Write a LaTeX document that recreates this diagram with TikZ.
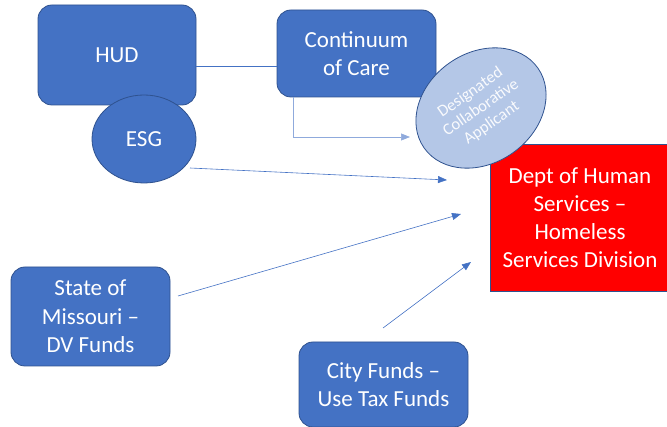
\documentclass[tikz,border=0pt]{standalone}
\usepackage{fontspec}
\setmainfont{Carlito}
\usetikzlibrary{shapes.geometric,arrows.meta}
\definecolor{bfill}{HTML}{4472C4}
\definecolor{bline}{HTML}{2F528F}
\definecolor{lfill}{HTML}{B4C7E7}
\definecolor{lline}{HTML}{8FAADC}
\tikzset{
  box/.style={draw=bline, line width=0.8pt, fill=bfill, rounded corners=14pt, text=white, font=\fontsize{23}{28.5}\selectfont, align=center, inner sep=0pt},
  oval/.style={draw=bline, line width=0.8pt, fill=bfill, ellipse, text=white, font=\fontsize{23}{28.5}\selectfont, inner sep=0pt},
  conn/.style={draw=bfill, line width=0.6pt},
  arr/.style={conn, -{Triangle[length=9pt,width=7pt]}}
}
\begin{document}
\begin{tikzpicture}[x=1pt,y=-1pt]
\useasboundingbox (0,0) rectangle (667,427);
% HUD and ESG
\node[box, minimum width=158pt, minimum height=100pt] (hud) at (117,55) {HUD};
\node[oval, minimum width=104pt, minimum height=88pt] (esg) at (144,139) {ESG};
% Continuum of Care
\node[box, minimum width=159pt, minimum height=87pt] (coc) at (356.5,53.5) {Continuum\\of Care};
\draw[conn] (hud.east |- 0,66) -- (coc.west |- 0,66);
% Red box
\node[draw=bline, line width=0.8pt, fill=red, text=white, minimum width=180pt, minimum height=147pt, inner sep=0pt, align=center, font=\fontsize{23}{28}\selectfont] (dhs) at (580,217.5) {Dept of Human\\Services --\\Homeless\\Services Division};
% DCA ellipse
\node[draw=bline, line width=0.8pt, fill=lfill, ellipse, minimum width=139pt, minimum height=110pt, rotate=35, text=white!92!lfill, align=center, font=\fontsize{16.5}{18.5}\selectfont, inner sep=0pt] (dca) at (481,108) {Designated\\Collaborative\\Applicant};
% CoC -> DCA
\coordinate (t1) at (410,137);
\draw[arr, draw=lline] (coc.south -| 293,0) |- (t1);
% ESG -> DHS
\coordinate (s1) at (190,168);
\coordinate (t2) at (447,180);
\draw[arr] (s1) -- (t2);
% State
\node[box, minimum width=159pt, minimum height=99pt] (state) at (90.5,316.5) {State of\\Missouri --\\DV Funds};
\coordinate (s3) at (178,296);
\coordinate (t3) at (461,214);
\draw[arr] (s3) -- (t3);
% City
\node[box, minimum width=169pt, minimum height=85pt] (city) at (383.5,384.5) {City Funds --\\Use Tax Funds};
\coordinate (s4) at (383,328);
\coordinate (t4) at (471,262);
\draw[arr] (s4) -- (t4);
\end{tikzpicture}
\end{document}
